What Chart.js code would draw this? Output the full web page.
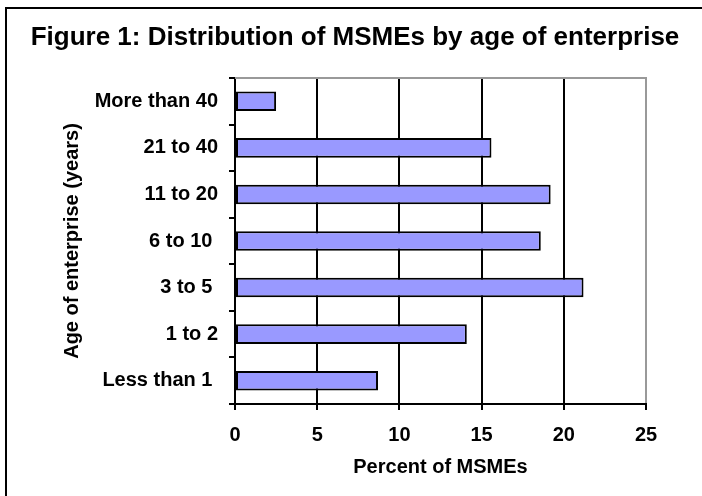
<!DOCTYPE html>
<html>
<head>
<meta charset="utf-8">
<script src="https://cdn.jsdelivr.net/npm/chart.js@4"></script>
<style>
  html, body { margin: 0; padding: 0; background: #fff; }
  canvas { display: block; }
</style>
</head>
<body>
<canvas id="chart" width="702" height="496"></canvas>
<script>
// age bands, top to bottom (some labels carry a trailing space)
const ageGroups = ['More than 40', '21 to 40', '11 to 20', '6 to 10 ', '3 to 5 ', '1 to 2', 'Less than 1 '];
const percentMSMEs = [2.5, 15.6, 19.2, 18.6, 21.2, 14.1, 8.7];
const xTicks = [0, 5, 10, 15, 20, 25];

const chartTitle = 'Figure 1: Distribution of MSMEs by age of enterprise';
const FONT = "'Liberation Sans', Arial, sans-serif";

// outer frame, figure title and the grey top edge of the plot
const framePlugin = {
  id: 'frame',
  afterDraw(chart) {
    const ctx = chart.ctx;
    const area = chart.chartArea;
    ctx.save();
    ctx.strokeStyle = '#000';
    ctx.lineWidth = 2;
    ctx.beginPath();
    ctx.moveTo(6, chart.height);
    ctx.lineTo(6, 8);
    ctx.lineTo(chart.width, 8);
    ctx.stroke();

    ctx.strokeStyle = '#999';
    ctx.beginPath();
    ctx.moveTo(area.left, area.top);
    ctx.lineTo(area.right + 1, area.top);
    ctx.stroke();

    ctx.fillStyle = '#000';
    ctx.font = 'bold 26px ' + FONT;
    ctx.textAlign = 'center';
    ctx.textBaseline = 'middle';
    ctx.fillText(chartTitle, 355, 38);
    ctx.restore();
  }
};

new Chart(document.getElementById('chart'), {
  type: 'bar',
  data: {
    labels: ageGroups,
    datasets: [{
      data: percentMSMEs,
      backgroundColor: '#9999ff',
      borderColor: '#000',
      borderWidth: 2,
      borderSkipped: false,
      barPercentage: 0.42,
      categoryPercentage: 1
    }]
  },
  plugins: [framePlugin],
  options: {
    indexAxis: 'y',
    responsive: false,
    animation: false,
    layout: { padding: { top: 78, right: 56, left: 0, bottom: 0 } },
    plugins: {
      legend: { display: false },
      tooltip: { enabled: false },
      title: { display: false }
    },
    scales: {
      x: {
        min: 0,
        max: 25,
        afterBuildTicks(scale) {
          scale.ticks = xTicks.map(v => ({ value: v }));
        },
        afterFit(scale) { scale.height = 92; },
        border: { color: '#000', width: 2 },
        grid: {
          color: c => (c.tick && c.tick.value === 25) ? '#999' : '#000',
          lineWidth: 2,
          tickColor: '#000',
          tickLength: 6
        },
        ticks: {
          color: '#000',
          padding: 13,
          maxRotation: 0,
          font: { family: FONT, size: 20, weight: 'bold' }
        },
        title: {
          display: true,
          text: 'Percent of MSMEs',
          color: '#000',
          padding: { top: 0, bottom: 17 },
          font: { family: FONT, size: 20, weight: 'bold' }
        }
      },
      y: {
        afterFit(scale) { scale.width = 235; },
        border: { color: '#000', width: 2 },
        grid: {
          offset: true,
          drawOnChartArea: false,
          tickColor: '#000',
          lineWidth: 2,
          tickLength: 6
        },
        ticks: {
          color: '#000',
          padding: 11,
          font: { family: FONT, size: 20, weight: 'bold' }
        },
        title: {
          display: true,
          text: 'Age of enterprise (years)',
          color: '#000',
          padding: { top: 60, bottom: 0 },
          font: { family: FONT, size: 20, weight: 'bold' }
        }
      }
    }
  }
});
</script>
</body>
</html>
